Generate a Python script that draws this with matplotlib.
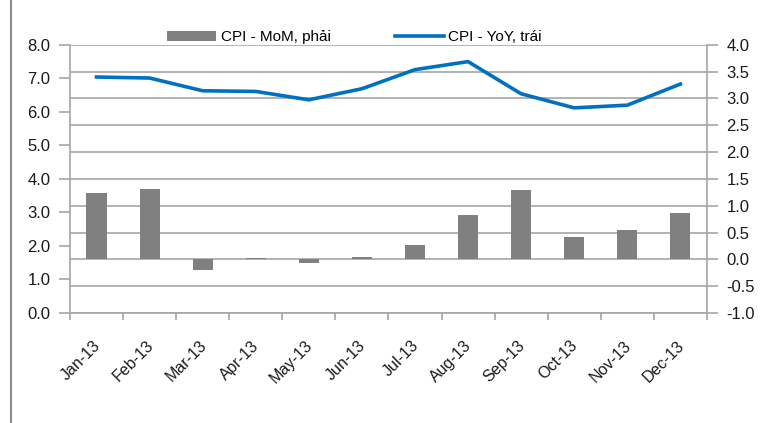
import matplotlib.pyplot as plt
from matplotlib.patches import Patch
from matplotlib.lines import Line2D
from matplotlib.transforms import ScaledTranslation

months = ['Jan-13', 'Feb-13', 'Mar-13', 'Apr-13', 'May-13', 'Jun-13',
          'Jul-13', 'Aug-13', 'Sep-13', 'Oct-13', 'Nov-13', 'Dec-13']
cpi_yoy = [7.04, 7.01, 6.63, 6.61, 6.36, 6.69, 7.26, 7.50, 6.54, 6.12, 6.20, 6.83]
cpi_mom = [1.23, 1.32, -0.20, 0.02, -0.06, 0.05, 0.27, 0.82, 1.29, 0.42, 0.54, 0.86]

plt.rcParams['font.family'] = ['Liberation Sans', 'DejaVu Sans']

fig = plt.figure(figsize=(7.65, 4.23), dpi=100)
ax = fig.add_axes([0.0915, 0.26, 0.8325, 0.634])
ax2 = ax.twinx()

x = list(range(len(months)))
grid_c = '#a6a6a6'

# bars on the right axis, behind the line
ax2.bar(x, cpi_mom, width=0.38, color='#808080', zorder=3)
ax2.set_ylim(-1, 4)
ax2.set_yticks([i * 0.5 for i in range(-2, 9)])
ax2.set_yticklabels([f'{i * 0.5:.1f}' for i in range(-2, 9)])
ax2.yaxis.grid(True, color=grid_c, linewidth=1.2, zorder=0)
ax2.set_axisbelow(True)

ax.plot(x, cpi_yoy, color='#0070c0', linewidth=2.6, zorder=5)
ax.set_ylim(0, 8)
ax.set_yticks(range(0, 9))
ax.set_yticklabels([f'{v:.1f}' for v in range(0, 9)])
ax.set_xlim(-0.5, len(months) - 0.5)
ax.set_zorder(ax2.get_zorder() + 1)
ax.patch.set_visible(False)

ax.set_xticks(x)
ax.set_xticklabels(months, rotation=45, ha='right', rotation_mode='anchor', fontsize=11.5)
ax.set_xticks([i - 0.5 for i in range(len(months) + 1)], minor=True)
ax.tick_params(axis='x', which='major', length=0, pad=18)
ax.tick_params(axis='x', which='minor', length=5, color=grid_c, width=1.2)
shift = ScaledTranslation(-4 / 100, 0, fig.dpi_scale_trans)
for lbl in ax.get_xticklabels():
    lbl.set_transform(lbl.get_transform() + shift)

for a in (ax, ax2):
    a.tick_params(axis='y', length=8, color=grid_c, width=1.2, labelsize=12, pad=6,
                  labelcolor='#1a1a1a')
    for s in a.spines.values():
        s.set_visible(False)
ax.tick_params(axis='x', labelcolor='#1a1a1a')
ax.spines['left'].set_visible(True)
ax.spines['bottom'].set_visible(True)
ax2.spines['right'].set_visible(True)
for s in (ax.spines['left'], ax.spines['bottom'], ax2.spines['right']):
    s.set_color(grid_c)
    s.set_linewidth(1.2)

handles = [Patch(facecolor='#808080'), Line2D([], [], color='#0070c0', linewidth=2.6)]
fig.legend(handles, ['CPI - MoM, phải', 'CPI - YoY, trái'], loc='center',
           bbox_to_anchor=(0.4635, 0.912), ncol=2, frameon=False, fontsize=11,
           handlelength=3.2, handleheight=0.6, columnspacing=4.2, handletextpad=0.3)

fig.add_artist(Line2D([0.014, 0.014], [0, 1], transform=fig.transFigure,
                      color='#8c8c8c', linewidth=1.5))

fig.savefig('out.png', dpi=100)
